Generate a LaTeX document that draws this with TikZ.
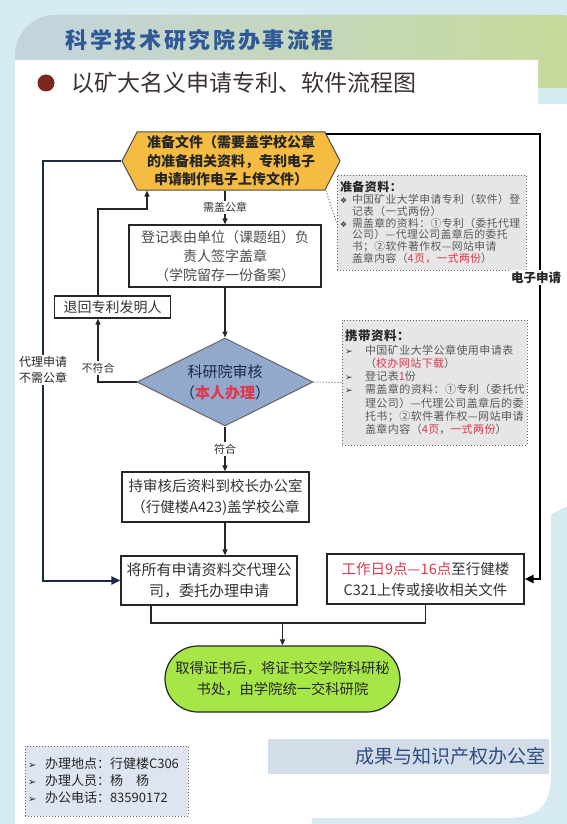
\documentclass[tikz,border=0pt]{standalone}
\usepackage{fontspec}
\setmainfont{Noto Sans CJK SC}
\newfontfamily\symfont{DejaVu Sans}
\usepackage{xcolor}
\definecolor{skyback}{RGB}{214, 234, 242}
\definecolor{bandleft}{RGB}{196, 212, 224}
\definecolor{bandright}{RGB}{198, 218, 150}
\definecolor{titleblue}{RGB}{46, 88, 150}
\definecolor{bulletred}{RGB}{122, 40, 32}
\definecolor{subgray}{RGB}{60, 50, 50}
\definecolor{prepgold}{RGB}{246, 188, 66}
\definecolor{diamblue}{RGB}{146, 168, 204}
\definecolor{certgreen}{RGB}{166, 230, 70}
\definecolor{notegray}{RGB}{230, 230, 230}
\definecolor{infoblue}{RGB}{222, 229, 240}
\definecolor{officeband}{RGB}{210, 221, 233}
\definecolor{officeblue}{RGB}{47, 78, 128}
\definecolor{railnavy}{RGB}{28, 42, 74}
\definecolor{alertred}{RGB}{222, 56, 76}
\definecolor{notetext}{RGB}{90, 90, 90}
\usepackage{tikz}
\usetikzlibrary{
    shapes.geometric,
    shapes.symbols,
    arrows.meta,
    calc
}

\newcommand\fsz[2]{\fontsize{#1}{#2}\selectfont}
\newcommand\prepbullet{\makebox[12pt][l]{\symfont\fsz{8}{10}\color{black!75}❖}}
\newcommand\prepindent{\hspace*{12pt}}
\newcommand\carrybullet{\makebox[20pt][l]{\symfont\fsz{9}{10}\color{black!80}➢}}
\newcommand\carryindent{\hspace*{20pt}}
\newcommand\infobullet{\makebox[17pt][l]{\symfont\fsz{10}{12}\color{black!85}➢}}

\begin{document}
\begin{tikzpicture}[
    x=1pt, y=-1pt,
    >={Triangle[length=6pt, width=5pt]},
    flow/.style={draw=black!85, line width=1.4pt, ->},
    joint/.style={draw=black!85, line width=1.4pt},
    rail/.style={draw=railnavy, line width=2pt, -{Triangle[length=9pt, width=8pt]}},
    erail/.style={draw=black, line width=2pt, -{Triangle[length=9pt, width=8pt]}},
    notelink/.style={draw=black!60, dotted, line width=1pt},
    tag/.style={fill=white, inner sep=1.5pt, align=center, font=\fsz{11}{13}, text=black!80},
    stepbox/.style={draw=black!85, line width=1.2pt, fill=white, inner sep=0pt, align=center, font=\fsz{14}{19}, text=black!80},
    prepstep/.style={signal, signal to=east and west, signal pointer angle=125, draw=black!70, line width=1pt,
        fill=prepgold, minimum width=218pt, minimum height=58pt, inner sep=0pt, align=center,
        font=\bfseries\fsz{14}{18.5}, text=black!85},
    checkstep/.style={diamond, draw=black!60, line width=1pt, fill=diamblue, minimum width=176pt,
        minimum height=88pt, inner sep=0pt, aspect=2, align=center, font=\fsz{15}{21}, text=railnavy},
    certstep/.style={draw=black!85, line width=1.2pt, fill=certgreen, rounded corners=33pt,
        minimum width=235pt, minimum height=66pt, inner sep=0pt, align=center, font=\fsz{14.3}{21}, text=black!85},
    notebox/.style={draw=black!60, dotted, line width=1pt, fill=notegray, inner xsep=3pt, inner ysep=0pt,
        align=left, text=notetext, font=\fsz{10.8}{11.8}\addfontfeature{LetterSpace=4}}
]
\useasboundingbox (0,0) rectangle (567,824);

% ==================== BACKGROUND ====================
\fill[skyback] (0,0) rectangle (567,824);
\begin{scope}
    \clip (15,15) rectangle (567,88);
    \shade[left color=bandleft, right color=bandright, rounded corners=40pt] (15,15) rectangle (600,160);
\end{scope}
\fill[white] (15,60) -- (538,60) -- (538,104) -- (567,104) -- (567,506) -- (551,514) -- (551,772)
    .. controls (551,805) and (540,818) .. (505,818) -- (312,818) -- (312,824) -- (15,824) -- cycle;

% ==================== HEADINGS ====================
\node[anchor=west, font=\bfseries\fsz{22}{24}\addfontfeature{LetterSpace=12}, text=titleblue] (title) at (62,40) {科学技术研究院办事流程};
\node[circle, fill=bulletred, minimum size=17pt, inner sep=0pt] (dot) at (46,83) {};
\node[anchor=west, font=\fsz{23}{25}, text=subgray] (subtitle) at (68,83) {以矿大名义申请专利、软件流程图};

% ==================== FLOW STEPS ====================
\node[prepstep] (prep) at (231,161) {准备文件（需要盖学校公章\\的准备相关资料，专利电子\\申请制作电子上传文件）};
\node[stepbox, minimum width=192pt, minimum height=62pt, text=black!70] (reg) at (225,256) {登记表由单位（课题组）负\\责人签字盖章\\（学院留存一份备案）};
\node[stepbox, minimum width=116pt, minimum height=22pt] (back) at (112.5,307) {退回专利发明人};
\node[checkstep] (check) at (225,382) {科研院审核\\（\textcolor{alertred}{\bfseries 本人办理}）};
\node[stepbox, minimum width=187pt, minimum height=50pt, font=\fsz{14.5}{21}] (approve) at (215.5,497) {持审核后资料到校长办公室\\（行健楼A423)盖学校公章};
\node[stepbox, minimum width=176pt, minimum height=49pt, font=\fsz{15}{21}] (agent) at (209,580.5) {将所有申请资料交代理公\\司，委托办理申请};
\node[stepbox, minimum width=197pt, minimum height=50pt, font=\fsz{14.5}{21}] (office) at (425.5,579) {\textcolor{alertred}{工作日9点—16点}至行健楼\\C321上传或接收相关文件};
\node[certstep] (cert) at (282.5,679) {取得证书后，将证书交学院科研秘\\书处，由学院统一交科研院};

% ==================== NOTES ====================
\node[notebox, text width=183pt, minimum height=95pt] (prepnote) at (431.5,222.5) {
    {\bfseries\fsz{12}{14}\color{black!85}准备资料：}\\
    \prepbullet 中国矿业大学申请专利（软件）登\\
    \prepindent 记表（一式两份）\\
    \prepbullet 需盖章的资料：①专利（委托代理\\
    \prepindent 公司）—代理公司盖章后的委托\\
    \prepindent 书；②软件著作权—网站申请\\
    \prepindent 盖章内容（\textcolor{alertred}{4页，一式两份}）
};
\node[notebox, text width=179pt, minimum height=125pt, font=\fsz{11}{13.3}\addfontfeature{LetterSpace=4}] (carrynote) at (434.5,382.5) {
    {\bfseries\fsz{12.5}{14}\color{black!85}携带资料：}\\
    \carrybullet 中国矿业大学公章使用申请表\\
    \carryindent （\textcolor{alertred}{校办网站下载}）\\
    \carrybullet 登记表\textcolor{alertred}{1}份\\
    \carrybullet 需盖章的资料：①专利（委托代\\
    \carryindent 理公司）—代理公司盖章后的委\\
    \carryindent 托书；②软件著作权—网站申请\\
    \carryindent 盖章内容（\textcolor{alertred}{4页}，\textcolor{alertred}{一式两份}）
};
\node[notebox, fill=infoblue, text=black!85, text width=157pt, minimum height=70pt, font=\fsz{13}{17}] (info) at (106.5,781) {
    \infobullet 办理地点：行健楼C306\\
    \infobullet 办理人员：杨　杨\\
    \infobullet 办公电话：83590172
};
\node[fill=officeband, text width=273pt, inner xsep=4pt, minimum height=35pt, align=right,
    font=\fsz{19}{21}, text=officeblue] (officename) at (408.5,756.5) {成果与知识产权办公室};

% ==================== CONNECTORS ====================
\coordinate (retrail) at (98,209);
\coordinate (retin) at (147,209);
\coordinate (leftrail) at (43,161);
\coordinate (railstart) at (326,134);
\coordinate (rightrail) at (540,134);
\coordinate (mergeleft) at (151,623);

\draw[flow] (prep.south -| reg.north) -- node[tag] {需盖公章} (reg.north);
\draw[flow] (reg.south) -- (check.north);
\draw[flow] (check.west) -| node[tag, pos=0.61] {不符合} (retrail |- back.south);
\draw[flow] (retrail |- back.north) -- (retrail) -- (retin) -- (retin |- prep.south);
\draw[flow] (check.south) -- node[tag] {符合} (check.south |- approve.north);
\draw[flow] (check.south |- approve.south) -- (check.south |- agent.north);

% agent route, no stamp needed
\draw[rail] (prep.west) -- (leftrail) |- node[tag, pos=0.249, font=\fsz{12}{16}, text=black!85] {代理申请\\不需公章} (agent.west);
% electronic filing
\draw[erail] (railstart) -- (rightrail) |- node[tag, pos=0.161, font=\bfseries\fsz{12.5}{14}, text=black!85, xshift=-4pt] {电子申请} (office.east);

% merge to certificate
\draw[joint] (mergeleft |- agent.south) -- (mergeleft) -| (office.south);
\draw[flow] (cert.north |- mergeleft) -- (cert.north);

% dotted note links
\draw[notelink] ($(prep.south)+(95,0)$) -- (prepnote.west);
\draw[notelink] (check.east) -- (carrynote.west);

\end{tikzpicture}
\end{document}
